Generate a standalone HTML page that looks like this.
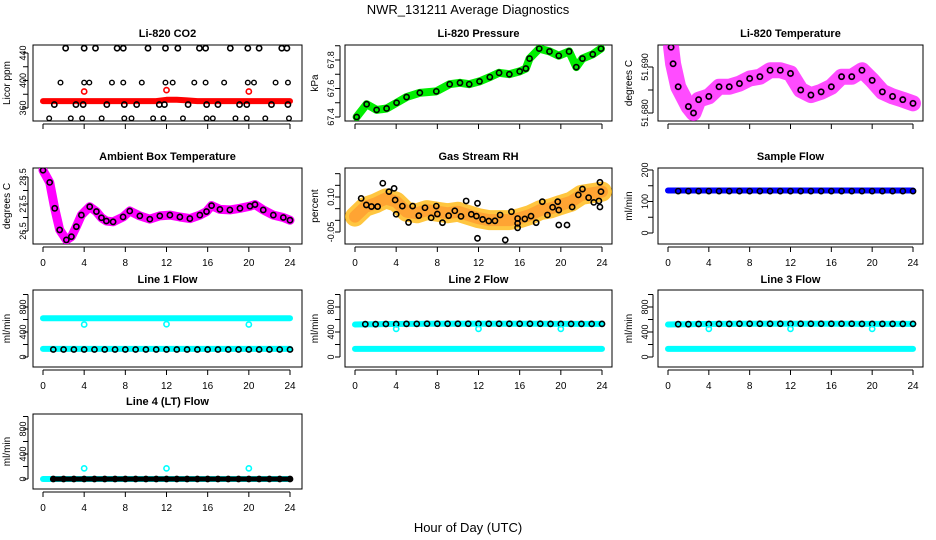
<!DOCTYPE html>
<html><head><meta charset="utf-8">
<style>
html,body{margin:0;padding:0;background:#fff;}
svg{display:block;font-family:"Liberation Sans",Arial,sans-serif;}
</style></head>
<body>
<svg id="c" width="936" height="540" viewBox="0 0 936 540" xmlns="http://www.w3.org/2000/svg">
<rect width="936" height="540" fill="#fff"/>
<text x="468" y="14" text-anchor="middle" font-size="13">NWR_131211  Average Diagnostics</text>
<text x="468" y="532" text-anchor="middle" font-size="13">Hour of Day (UTC)</text>
</svg>
<script>
// ---- data ----
const xTicks=[0,4,8,12,16,20,24];
const hourAxis=[0,1,2,3,4,5,6,7,8,9,10,11,12,13,14,15,16,17,18,19,20,21,22,23,24];
// CO2
const co2Band=[370,370,370,370,370,370,370,370,370,370,370,370,372,372,371,370,370,370,370,370,370,370,370,370,370];
const co2RedHours=[4,12,20];const co2RedVals=[384,386,384];
const co2Hours447=[2.2,4.0,5.1,7.2,7.8,10.2,11.9,13.1,15.2,15.8,18.2,19.9,21.0,23.2,23.7];
const co2Hours397=[1.7,4.0,4.5,6.7,7.8,9.6,11.9,12.6,14.7,15.8,17.6,19.9,20.5,22.6,23.8];
const co2Hours365=[1.1,3.2,3.9,6.2,7.9,9.1,11.3,11.8,14.1,15.9,17.0,19.1,19.8,22.2,23.8];
const co2Hours345=[0.6,2.7,3.8,5.7,7.9,8.6,10.7,11.7,13.6,15.9,16.5,18.7,19.8,21.6,23.9];
// Pressure
const presHours=[0.16,1.13,2.1,3.07,4.04,5.01,6.3,7.9,9.2,10.2,11.1,12.1,13.1,14.0,15.0,16.0,16.6,16.96,17.9,18.9,19.8,20.8,21.5,22.1,23.1,23.9];
const presVals=[67.40,67.49,67.45,67.46,67.50,67.54,67.57,67.58,67.63,67.64,67.63,67.65,67.68,67.71,67.70,67.72,67.74,67.81,67.88,67.86,67.83,67.86,67.75,67.81,67.84,67.88];
// Li-820 temperature
const tempHours=[0.3,0.5,1,2,2.5,3,4,5,6,7,8,9,10,11,12,13,14,15,16,17,18,19,20,21,22,23,24];
const tempVals=[51.6943,51.6907,51.6857,51.6814,51.6800,51.6829,51.6836,51.6857,51.6857,51.6864,51.6875,51.6879,51.6893,51.6893,51.6886,51.6850,51.6839,51.6846,51.6857,51.6879,51.6879,51.6893,51.6871,51.6846,51.6836,51.6829,51.6821];
// Ambient box temp
const ambHours=[0,0.65,1.14,1.62,2.27,2.76,3.24,3.73,4.54,5.19,5.68,6.16,6.81,7.78,8.43,9.41,10.38,11.35,12.33,13.30,14.27,15.24,15.89,16.38,17.19,18.16,19.14,20.11,20.6,21.4,22.38,23.35,24];
const ambVals=[28.75,28.30,27.34,26.54,26.17,26.29,26.66,27.09,27.40,27.22,26.99,26.87,26.84,27.02,27.24,27.06,26.94,27.06,27.09,27.02,26.96,27.09,27.22,27.44,27.30,27.28,27.34,27.42,27.48,27.28,27.09,27.0,26.9];
// Gas stream RH
const rhCloud=[0.016,0.058,0.073,0.094,0.080,0.037,0.030,0.044,0.037,0.030,0.037,0.023,0.009,0.001,0.001,0.001,0.009,0.023,0.044,0.051,0.066,0.080,0.109,0.116,0.123];
const rhPtHours=[0.6,1.1,1.6,2.2,2.7,3.3,3.8,3.9,4.0,4.6,5.2,5.6,6.2,6.8,7.4,7.9,8.0,8.5,9.1,9.7,10.3,10.8,11.3,11.8,11.9,11.9,12.4,13.0,13.6,14.1,14.6,15.2,15.8,15.8,15.8,16.5,17.1,17.6,18.2,18.7,19.2,19.7,19.8,19.8,20.6,21.1,21.7,22.1,22.7,23.2,23.7,23.8,23.8,23.9];
const rhPtVals=[0.094,0.066,0.059,0.059,0.159,0.123,0.137,0.087,0.026,0.061,-0.009,0.061,0.020,0.054,0.011,0.061,0.027,-0.010,0.020,0.041,0.017,0.083,0.026,0.018,0.073,-0.077,0.004,-0.003,-0.002,0.023,-0.084,0.037,0.008,-0.013,-0.032,0.006,0.018,-0.010,0.080,0.023,0.056,0.080,0.044,-0.020,-0.020,0.057,0.109,0.134,0.097,0.077,0.083,0.057,0.163,0.123];
// Sample flow
const sampleBlue=[135,135,135,135,135,135,135,135,135,135,135,135,135,135,135,135,135,135,135,135,135,135,135,135,135];
const sampleBlack=[133,133,133,133,133,133,133,133,133,133,133,133,133,133,133,133,133,133,133,133,133,133,133,133,133];
// Line flows
const l1Cyan=[620,620,620,620,620,620,620,620,620,620,620,620,620,620,620,620,620,620,620,620,620,620,620,620,620];
const l1CyanLow=[130,130,130,130,130,130,130,130,130,130,130,130,130,130,130,130,130,130,130,130,130,130,130,130,130];
const l1Black=[120,120,120,120,120,120,120,120,120,120,120,120,120,120,120,120,120,120,120,120,120,120,120,120,120];
const l2Cyan=[130,130,130,130,130,130,130,130,130,130,130,130,130,130,130,130,130,130,130,130,130,130,130,130,130];
const l2Black=[520,525,525,528,528,530,530,532,532,532,532,532,532,532,532,532,532,532,532,530,530,530,530,530,530];
const l3Cyan=[130,130,130,130,130,130,130,130,130,130,130,130,130,130,130,130,130,130,130,130,130,130,130,130,130];
const l3Black=[520,525,525,528,528,530,530,532,532,532,532,532,532,532,532,532,532,532,532,530,530,530,530,530,530];
const l4Cyan=[0,0,0,0,0,0,0,0,0,0,0,0,0,0,0,0,0,0,0,0,0,0,0,0,0];
const l4Black=[0,0,0,0,0,0,0,0,0,0,0,0,0,0,0,0,0,0,0,0,0,0,0,0,0];
const outlierHours=[4,12,20];
const l1Out=[520,525,520];const l2Out=[450,450,450];const l3Out=[450,450,450];const l4Out=[170,170,170];
const co2Ticks=[360,380,400,420,440],co2Labels=[360,400,440];
const presTicks=[67.4,67.5,67.6,67.7,67.8,67.9],presLabels=[67.4,67.6,67.8];
const tempTicks=[51.680,51.685,51.690],tempLabels=[51.680,51.690];
const ambTicks=[26.5,27,27.5,28,28.5],ambLabels=[26.5,27.5,28.5];
const rhTicks=[-0.05,0,0.05,0.10,0.15,0.20],rhLabels=[-0.05,0.10];
const sfTicks=[0,50,100,150,200],sfLabels=[0,100,200];
const flTicks=[0,200,400,600,800,1000],flLabels=[0,400,800];

// ---- layout ----
const svg=document.getElementById('c');
const NS='http://www.w3.org/2000/svg';
const cols=[{x0:43,x24:290,L:33,R:302,yl:10,tl:23},{x0:355,x24:602,L:345,R:612,yl:318,tl:331},{x0:668,x24:913,L:658,R:923,yl:632,tl:645}];
const rows=[{T:45,B:121,ty:37,lab:false},{T:168,B:244,ty:160,lab:true},{T:290,B:367,ty:283,lab:true},{T:414,B:489,ty:405,lab:true}];
function el(tag,at,parent){const e=document.createElementNS(NS,tag);for(const k in at)e.setAttribute(k,at[k]);(parent||svg).appendChild(e);return e;}

function panel(name,title,ylab,c,r,v0,p0,v1,p1,ticks,labels,fmt){
  const g=el('g',{});
  
  
  const X=h=>c.x0+(c.x24-c.x0)*h/24;
  const Y=v=>p0+(p1-p0)*(v-v0)/(v1-v0);
  const box=el('rect',{x:c.L,y:r.T,width:c.R-c.L,height:r.B-r.T,fill:'none',stroke:'#000','stroke-width':1},g);
  
  
  const t=el('text',{x:(c.L+c.R)/2,y:r.ty,'text-anchor':'middle','font-size':11,'font-weight':'bold'},g);
  t.textContent=title;
  
  
  const yl=el('text',{x:c.yl,y:(r.T+r.B)/2,'text-anchor':'middle','font-size':10,transform:`rotate(-90 ${c.yl} ${(r.T+r.B)/2})`},g);
  yl.textContent=ylab;
  
  
  const ya=el('g',{},g);
  
  
  const ty=ticks.map(Y);
  el('line',{x1:c.L-5,x2:c.L-5,y1:Math.min(...ty),y2:Math.max(...ty),stroke:'#000'},ya);
  ticks.forEach(v=>el('line',{x1:c.L-10,x2:c.L-5,y1:Y(v),y2:Y(v),stroke:'#000'},ya));
  labels.forEach(v=>{const yy=Y(v);const tt=el('text',{x:c.tl,y:yy,'text-anchor':'middle','font-size':9,'dominant-baseline':'central',transform:`rotate(-90 ${c.tl} ${yy})`},ya);tt.textContent=fmt(v);});
  const xa=el('g',{},g);
  
  
  el('line',{x1:X(0),x2:X(24),y1:r.B+3,y2:r.B+3,stroke:'#000'},xa);
  xTicks.forEach(h=>{el('line',{x1:X(h),x2:X(h),y1:r.B+3,y2:r.B+8,stroke:'#000'},xa);
    if(r.lab){const tt=el('text',{x:X(h),y:r.B+22,'text-anchor':'middle','font-size':10},xa);tt.textContent=h;}});
  const cp=el('clipPath',{id:'cp-'+name},g);el('rect',{x:c.L,y:r.T,width:c.R-c.L,height:r.B-r.T},cp);
  const plot=el('g',{'clip-path':`url(#cp-${name})`},g);
  return {X,Y,plot,g};
}
function band(P,hs,vs,color,w,op,name){
  const d=hs.map((h,i)=>(i?'L':'M')+P.X(h).toFixed(1)+','+P.Y(vs[i]).toFixed(1)).join(' ');
  const p=el('path',{d,fill:'none',stroke:color,'stroke-width':w,'stroke-linecap':'round','stroke-linejoin':'round',opacity:op},P.plot);
  
  
}
function pts(P,hs,vs,color,name,r,sw){
  const gg=el('g',{},P.plot);
  
  
  hs.forEach((h,i)=>el('circle',{cx:P.X(h),cy:P.Y(vs[i]),r:r||2.6,fill:'none',stroke:color,'stroke-width':sw||1.6},gg));
}
function fill(n,v){return Array(n).fill(v);}

// Row1
let P=panel('co2','Li-820 CO2','Licor ppm',cols[0],rows[0],360,108,440,53,co2Ticks,co2Labels,v=>v);
band(P,hourAxis,co2Band,'#ff0000',6,1,'co2-red-series');
pts(P,co2RedHours,co2RedVals,'#ff0000','co2-red-points');
pts(P,co2Hours447,fill(co2Hours447.length,447),'#000','co2-black-447');
pts(P,co2Hours397,fill(co2Hours397.length,397),'#000','co2-black-397',2.3,1.4);
pts(P,co2Hours365,fill(co2Hours365.length,365),'#000','co2-black-365');
pts(P,co2Hours345,fill(co2Hours345.length,345),'#000','co2-black-345',2.3,1.4);

P=panel('pressure','Li-820 Pressure','kPa',cols[1],rows[0],67.4,117,67.8,60,presTicks,presLabels,v=>v.toFixed(1));
band(P,presHours,presVals,'#00ee00',8,1,'pressure-green-series');
pts(P,presHours,presVals,'#000','pressure-black-points');

P=panel('li820-temp','Li-820 Temperature','degrees C',cols[2],rows[0],51.680,113,51.690,67,tempTicks,tempLabels,v=>v.toFixed(3));
band(P,tempHours,tempVals,'#ff00ff',16,0.7,'temp-magenta-series');
pts(P,tempHours,tempVals,'#ff00ff','temp-magenta-points',3,1.5);
pts(P,tempHours,tempVals,'#000','temp-black-points');

// Row2
P=panel('ambient','Ambient Box Temperature','degrees C',cols[0],rows[1],26.5,231,28.5,177,ambTicks,ambLabels,v=>v.toFixed(1));
band(P,ambHours,ambVals,'#ff00ff',9,1,'ambient-magenta-series');
pts(P,ambHours,ambVals,'#000','ambient-black-points');

P=panel('rh','Gas Stream RH','percent',cols[1],rows[1],-0.05,232,0.10,197,rhTicks,rhLabels,v=>v.toFixed(2));
band(P,hourAxis,rhCloud,'#ffb300',20,0.75,'rh-orange-series');
band(P,hourAxis,rhCloud,'#ff2000',12,0.2,'rh-red-series');
pts(P,rhPtHours,rhPtVals,'#000','rh-black-points');

P=panel('sample-flow','Sample Flow','ml/min',cols[2],rows[1],0,233,200,170,sfTicks,sfLabels,v=>v);
band(P,hourAxis,sampleBlue,'#0000ff',6,1,'sample-blue-series');
pts(P,hourAxis.slice(1),sampleBlack.slice(1),'#000','sample-black-points');

function flowPanel(name,title,c,r,series){
  const off=r.B-367;
  const P=panel(name,title,'ml/min',c,r,0,357+off,800,307+off,flTicks,flLabels,v=>v);
  series(P);
}
flowPanel('line1-flow','Line 1 Flow',cols[0],rows[2],P=>{
  band(P,hourAxis,l1Cyan,'#00ffff',6,1,'line1-cyan-series');
  band(P,hourAxis,l1CyanLow,'#00ffff',6,1,'line1-cyan-low-series');
  pts(P,hourAxis.slice(1),l1Black.slice(1),'#000','line1-black-points');
  pts(P,outlierHours,l1Out,'#00ffff','line1-cyan-outliers');
});
flowPanel('line2-flow','Line 2 Flow',cols[1],rows[2],P=>{
  band(P,hourAxis,l2Cyan,'#00ffff',6,1,'line2-cyan-series');
  band(P,hourAxis,l2Black,'#00ffff',6,1,'line2-cyan-under');
  pts(P,hourAxis.slice(1),l2Black.slice(1),'#000','line2-black-points');
  pts(P,outlierHours,l2Out,'#00ffff','line2-cyan-outliers');
});
flowPanel('line3-flow','Line 3 Flow',cols[2],rows[2],P=>{
  band(P,hourAxis,l3Cyan,'#00ffff',6,1,'line3-cyan-series');
  band(P,hourAxis,l3Black,'#00ffff',6,1,'line3-cyan-under');
  pts(P,hourAxis.slice(1),l3Black.slice(1),'#000','line3-black-points');
  pts(P,outlierHours,l3Out,'#00ffff','line3-cyan-outliers');
});
flowPanel('line4-flow','Line 4 (LT) Flow',cols[0],rows[3],P=>{
  band(P,hourAxis,l4Cyan,'#00ffff',6,1,'line4-cyan-series');
  band(P,hourAxis.slice(1),l4Black.slice(1),'#000',5,1,'line4-black-series');
  pts(P,hourAxis.slice(1),l4Black.slice(1),'#000','line4-black-points');
  pts(P,outlierHours,l4Out,'#00ffff','line4-cyan-outliers');
});
</script>
</body></html>
